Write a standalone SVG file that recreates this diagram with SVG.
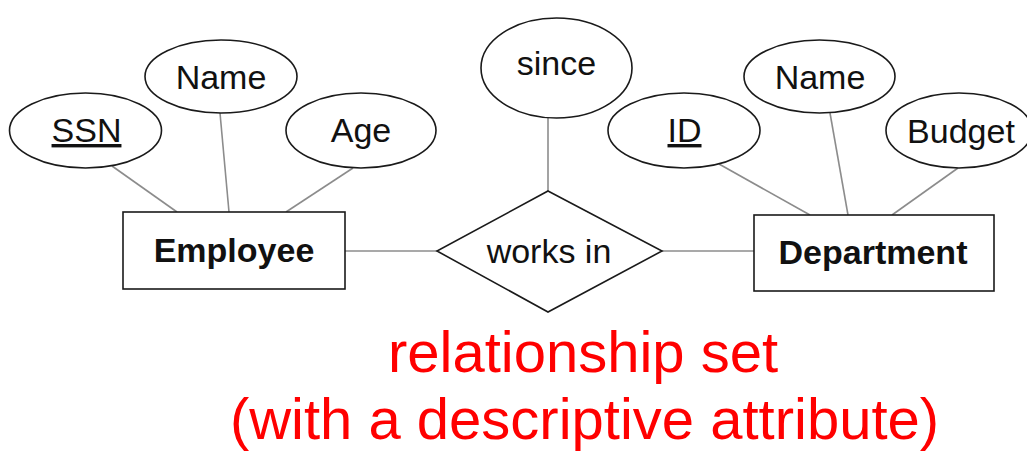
<svg xmlns="http://www.w3.org/2000/svg" width="1027" height="454" viewBox="0 0 1027 454">
  <style>
    .attr { fill: #ffffff; stroke: #1a1a1a; stroke-width: 1.6; }
    .entity { fill: #ffffff; stroke: #1a1a1a; stroke-width: 1.6; }
    .rel { fill: #ffffff; stroke: #1a1a1a; stroke-width: 1.6; }
    .link { stroke: #8c8c8c; stroke-width: 1.6; fill: none; }
    text { font-family: "Liberation Sans", Arial, Helvetica, sans-serif; text-anchor: middle; fill: #111111; }
    .label { font-size: 34px; }
    .key { font-size: 34px; text-decoration: underline; }
    .ename { font-size: 34px; font-weight: bold; }
    .note { font-size: 58px; fill: #ff0000; }
  </style>

  <rect width="1027" height="454" fill="#ffffff"/>

  <!-- connectors drawn first so shapes sit on top -->
  <g id="connectors">
    <line class="link" x1="112" y1="166" x2="177" y2="212"/>
    <line class="link" x1="220" y1="113" x2="229" y2="212"/>
    <line class="link" x1="353" y1="168" x2="286" y2="212"/>
    <line class="link" x1="345" y1="251" x2="437" y2="251"/>
    <line class="link" x1="548" y1="118" x2="548" y2="191"/>
    <line class="link" x1="662" y1="251" x2="754" y2="251"/>
    <line class="link" x1="719" y1="164" x2="810" y2="215"/>
    <line class="link" x1="830" y1="113" x2="848" y2="215"/>
    <line class="link" x1="958" y1="168" x2="892" y2="215"/>
  </g>

  <!-- Employee entity and its attributes -->
  <g id="employee">
    <rect class="entity" x="123" y="212" width="222" height="77"/>
    <text class="ename" x="234" y="262">Employee</text>
  </g>
  <g id="emp-ssn">
    <ellipse class="attr" cx="85.5" cy="130.5" rx="76" ry="37.5"/>
    <text class="key" x="86.5" y="142">SSN</text>
  </g>
  <g id="emp-name">
    <ellipse class="attr" cx="221" cy="76.5" rx="76" ry="36.5"/>
    <text class="label" x="221" y="89">Name</text>
  </g>
  <g id="emp-age">
    <ellipse class="attr" cx="361" cy="130.5" rx="75" ry="37.5"/>
    <text class="label" x="361" y="142">Age</text>
  </g>

  <!-- works in relationship with its descriptive attribute -->
  <g id="works-in">
    <polygon class="rel" points="548,191 662,251 548,312 437,251"/>
    <text class="label" x="549" y="263">works in</text>
  </g>
  <g id="since">
    <ellipse class="attr" cx="556.5" cy="68" rx="75.5" ry="50"/>
    <text class="label" x="556.5" y="75">since</text>
  </g>

  <!-- Department entity and its attributes -->
  <g id="department">
    <rect class="entity" x="754" y="215" width="240" height="76"/>
    <text class="ename" x="873" y="264">Department</text>
  </g>
  <g id="dept-id">
    <ellipse class="attr" cx="684" cy="130.5" rx="76" ry="37.5"/>
    <text class="key" x="684.5" y="142">ID</text>
  </g>
  <g id="dept-name">
    <ellipse class="attr" cx="819.5" cy="76.5" rx="75.5" ry="36.5"/>
    <text class="label" x="820" y="89">Name</text>
  </g>
  <g id="dept-budget">
    <ellipse class="attr" cx="959" cy="130.5" rx="73" ry="37.5"/>
    <text class="label" x="961" y="143">Budget</text>
  </g>

  <!-- caption -->
  <g id="caption">
    <text class="note" x="583" y="372">relationship set</text>
    <text class="note" x="584.5" y="439">(with a descriptive attribute)</text>
  </g>
</svg>
